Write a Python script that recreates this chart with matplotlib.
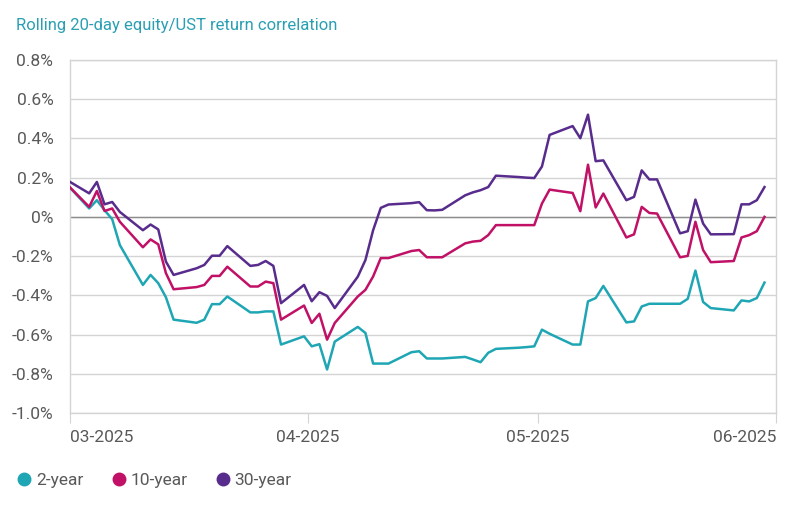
import matplotlib
matplotlib.use("Agg")
import matplotlib.pyplot as plt
import matplotlib.dates as mdates
from matplotlib.lines import Line2D
import pandas as pd

plt.rcParams['font.family'] = ['Liberation Sans Narrow', 'Roboto', 'DejaVu Sans']

# trading days (values in %)
dates = ['2025-02-28',
         '2025-03-03', '2025-03-04', '2025-03-05', '2025-03-06', '2025-03-07',
         '2025-03-10', '2025-03-11', '2025-03-12', '2025-03-13', '2025-03-14',
         '2025-03-17', '2025-03-18', '2025-03-19', '2025-03-20', '2025-03-21',
         '2025-03-24', '2025-03-25', '2025-03-26', '2025-03-27', '2025-03-28',
         '2025-03-31', '2025-04-01', '2025-04-02', '2025-04-03', '2025-04-04',
         '2025-04-07', '2025-04-08', '2025-04-09', '2025-04-10', '2025-04-11',
         '2025-04-14', '2025-04-15', '2025-04-16', '2025-04-17', '2025-04-18',
         '2025-04-21', '2025-04-22', '2025-04-23', '2025-04-24', '2025-04-25',
         '2025-04-28', '2025-04-29', '2025-04-30', '2025-05-01', '2025-05-02',
         '2025-05-05', '2025-05-06', '2025-05-07', '2025-05-08', '2025-05-09',
         '2025-05-12', '2025-05-13', '2025-05-14', '2025-05-15', '2025-05-16',
         '2025-05-19', '2025-05-20', '2025-05-21', '2025-05-22', '2025-05-23',
         '2025-05-26', '2025-05-27', '2025-05-28', '2025-05-29', '2025-05-30']

y2 = [0.17,
      0.043, 0.085, 0.034, -0.012, -0.144,
      -0.347, -0.296, -0.338, -0.41, -0.524,
      -0.54, -0.524, -0.445, -0.445, -0.406,
      -0.487, -0.487, -0.482, -0.482, -0.651,
      -0.609, -0.66, -0.649, -0.778, -0.636,
      -0.561, -0.592, -0.748, -0.748, -0.748,
      -0.69, -0.685, -0.722, -0.722, -0.722,
      -0.714, -0.727, -0.741, -0.693, -0.673,
      -0.667, -0.664, -0.66, -0.575, -0.596,
      -0.651, -0.651, -0.431, -0.414, -0.352,
      -0.538, -0.533, -0.457, -0.443, -0.443,
      -0.443, -0.418, -0.274, -0.434, -0.465,
      -0.477, -0.426, -0.431, -0.414, -0.335]

y10 = [0.17,
       0.051, 0.132, 0.030, 0.043, -0.025,
       -0.155, -0.115, -0.14, -0.287, -0.369,
       -0.358, -0.347, -0.301, -0.301, -0.254,
       -0.355, -0.355, -0.33, -0.338, -0.524,
       -0.452, -0.541, -0.494, -0.626, -0.541,
       -0.406, -0.372, -0.304, -0.21, -0.21,
       -0.174, -0.169, -0.206, -0.206, -0.206,
       -0.135, -0.126, -0.122, -0.093, -0.042,
       -0.042, -0.042, -0.042, 0.068, 0.139,
       0.122, 0.029, 0.266, 0.048, 0.119,
       -0.105, -0.089, 0.051, 0.02, 0.017,
       -0.206, -0.199, -0.025, -0.169, -0.231,
       -0.225, -0.105, -0.093, -0.073, 0.0]

y30 = [0.19,
       0.12, 0.178, 0.064, 0.076, 0.025,
       -0.068, -0.039, -0.064, -0.228, -0.296,
       -0.262, -0.245, -0.198, -0.198, -0.149,
       -0.25, -0.245, -0.225, -0.25, -0.44,
       -0.347, -0.43, -0.384, -0.403, -0.465,
       -0.305, -0.22, -0.068, 0.046, 0.063,
       0.07, 0.075, 0.034, 0.033, 0.036,
       0.11, 0.125, 0.136, 0.152, 0.21,
       0.203, 0.2, 0.198, 0.257, 0.418,
       0.463, 0.401, 0.521, 0.284, 0.288,
       0.085, 0.102, 0.237, 0.191, 0.191,
       -0.084, -0.073, 0.088, -0.034, -0.089,
       -0.088, 0.064, 0.064, 0.085, 0.152]

series = ['2-year', '10-year', '30-year']
colors = ['#1fa6b4', '#c01167', '#582c8c']
month_ticks = ['2025-03-01', '2025-04-01', '2025-05-01', '2025-06-01']
yticks = [0.8, 0.6, 0.4, 0.2, 0.0, -0.2, -0.4, -0.6, -0.8, -1.0]

txt = '#595959'
grid = '#d4d4d4'

fig = plt.figure(figsize=(8, 5.07), dpi=100)
ax = fig.add_axes([0.0875, 0.1854, 0.8825, 0.6963])

# points sit in the middle of each day slot
x = pd.to_datetime(dates) + pd.Timedelta(hours=12)
for vals, c in zip([y2, y10, y30], colors):
    ax.plot(x, vals, color=c, lw=1.8, zorder=3)

ax.set_ylim(-1.0, 0.8)
ax.set_yticks(yticks)
ax.set_yticklabels(['%.1f%%' % v if v != 0 else '0%' for v in yticks])
ax.yaxis.grid(True, color=grid, lw=1)
ax.axhline(0, color='#8c8c8c', lw=1, zorder=2)

ax.set_xlim(pd.Timestamp(month_ticks[0]), pd.Timestamp(month_ticks[-1]))
ax.set_xticks(pd.to_datetime(month_ticks))
ax.xaxis.set_major_formatter(mdates.DateFormatter('%m-%Y'))
labels = ax.get_xticklabels()
labels[0].set_ha('left')
labels[-1].set_ha('right')

for s in ax.spines.values():
    s.set_color(grid)
    s.set_linewidth(1)

ax.tick_params(axis='y', length=0, pad=12, labelsize=12.5, labelcolor=txt)
ax.tick_params(axis='x', length=7, color=grid, pad=5, labelsize=12.5, labelcolor=txt)

fig.text(0.02, 0.95, 'Rolling 20-day equity/UST return correlation',
         color='#2a9fb3', fontsize=12, va='center', ha='left')

handles = [Line2D([], [], ls='none', marker='o', ms=9, color=c) for c in colors]
fig.legend(handles, series, loc='center left', bbox_to_anchor=(0.0, 0.053),
           ncol=3, frameon=False, fontsize=12.5, labelcolor=txt,
           handletextpad=0.2, columnspacing=1.5, handlelength=1.0)

fig.savefig('out.png', dpi=100, facecolor='white')
